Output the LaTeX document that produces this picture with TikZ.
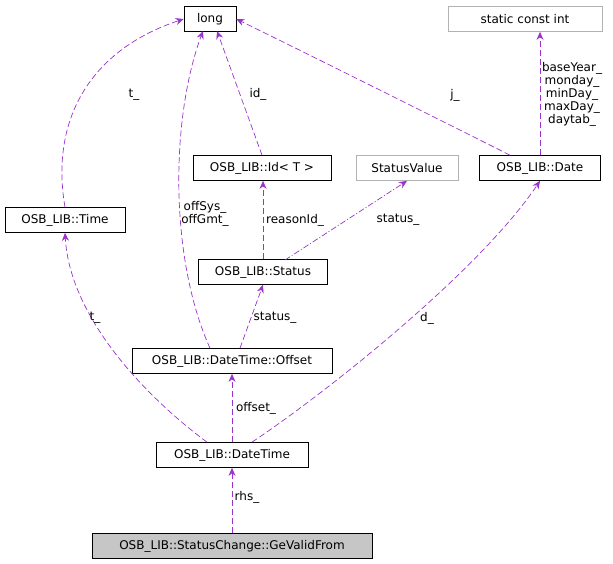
\documentclass[tikz,border=0pt]{standalone}
\usepackage{fontspec}
\setmainfont{DejaVu Sans}
\usetikzlibrary{arrows.meta}
\definecolor{edge}{HTML}{9A32CD}
\begin{document}
\begin{tikzpicture}[x=1pt,y=-1pt,
  box/.style={draw=black,fill=white,minimum height=25pt,inner sep=0pt,font=\fontsize{12}{13}\selectfont,line width=0.7pt},
  gbox/.style={box,draw=gray!60},
  dep/.style={draw=edge,dashed,dash pattern=on 6pt off 3pt,line width=0.7pt,-{Stealth[length=8pt,width=7pt]}},
  lbl/.style={font=\fontsize{12}{13}\selectfont,inner sep=1pt,align=center}]
\useasboundingbox (0,0) rectangle (613,563);
\node[box,minimum width=52pt] (long) at (210,19) {long};
\node[gbox,minimum width=154pt] (sci) at (525,19) {static const int};
\node[box,minimum width=120pt] (time) at (65,220) {OSB\_LIB::Time};
\node[box,minimum width=138pt] (id) at (262,168) {OSB\_LIB::Id< T >};
\node[gbox,minimum width=102pt] (sv) at (407,168) {StatusValue};
\node[box,minimum width=121pt] (date) at (540,168) {OSB\_LIB::Date};
\node[box,minimum width=129pt] (status) at (263,272) {OSB\_LIB::Status};
\node[box,minimum width=200pt] (offset) at (232,361) {OSB\_LIB::DateTime::Offset};
\node[box,minimum width=152pt] (dt) at (232,455) {OSB\_LIB::DateTime};
\node[box,fill=gray!45,minimum width=280pt] (gv) at (232,546) {OSB\_LIB::StatusChange::GeValidFrom};

\draw[dep] (time.north) .. controls (50,120) and (90,50) .. (long.west);
\node[lbl] (l1) at (134,95) {t\_};
\draw[dep] (offset.north) ++(-22,0) .. controls (170,260) and (170,120) .. (203,31);
\node[lbl] (l2) at (205,214) {offSys\_\\offGmt\_};
\draw[dep] (id.north) -- (217,31);
\node[lbl] (l3) at (258,94) {id\_};
\draw[dep] (date.north) ++(-30,0) .. controls (420,110) and (320,60) .. (long.east);
\node[lbl] (l4) at (455,95) {j\_};
\draw[dep] (date.north) -- (date.north|-sci.south);
\node[lbl,fill=white,inner sep=0pt] (l5) at (572,94) {baseYear\_\\monday\_\\minDay\_\\maxDay\_\\daytab\_};
\draw[dep] (status.north) -- (status.north|-id.south);
\node[lbl] (l6) at (295,220) {reasonId\_};
\draw[dep,dash pattern=on 6pt off 2pt on 1pt off 2pt] (285,260) -- (sv.south);
\node[lbl] (l7) at (398,220) {status\_};
\draw[dep] (offset.north) ++(8,0) -- (status.south);
\node[lbl] (l8) at (275,318) {status\_};
\draw[dep] (dt.north) ++(-25,0) .. controls (150,400) and (70,320) .. (time.south);
\node[lbl] (l9) at (95,318) {t\_};
\draw[dep] (dt.north) ++(20,0) .. controls (330,390) and (480,270) .. (date.south);
\node[lbl] (l10) at (427,318) {d\_};
\draw[dep] (dt.north) -- (offset.south);
\node[lbl] (l11) at (256,408) {offset\_};
\draw[dep] (gv.north) -- (dt.south);
\node[lbl] (l12) at (247,497) {rhs\_};
\end{tikzpicture}
\end{document}
